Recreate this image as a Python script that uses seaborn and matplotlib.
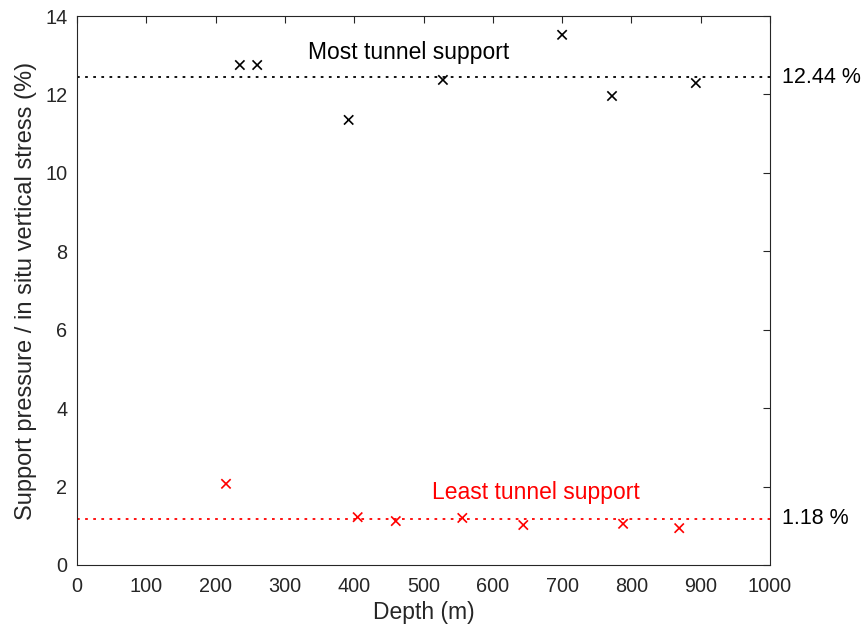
import numpy as np
import pandas as pd
import seaborn as sns
import matplotlib
matplotlib.use("Agg")
import matplotlib.pyplot as plt

# Most-supported tunnels
most_depth = [235, 260, 392, 528, 700, 772, 893]
most_ratio = [12.75, 12.75, 11.35, 12.37, 13.52, 11.96, 12.29]
most_mean = 12.44

# Least-supported tunnels
least_depth = [215, 405, 460, 556, 644, 788, 869]
least_ratio = [2.07, 1.22, 1.12, 1.20, 1.02, 1.05, 0.94]
least_mean = 1.18

xticks = list(range(0, 1001, 100))
yticks = list(range(0, 15, 2))

sns.set_theme(style="white")
plt.rcParams["font.family"] = ["Liberation Sans", "DejaVu Sans"]

fig = plt.figure(figsize=(8.67, 6.35), dpi=100)
ax = fig.add_axes([77 / 867, 70 / 635, 693 / 867, 549 / 635])

df = pd.DataFrame({
    "depth": most_depth + least_depth,
    "ratio": most_ratio + least_ratio,
    "group": ["most"] * len(most_depth) + ["least"] * len(least_depth),
})
sns.scatterplot(data=df, x="depth", y="ratio", hue="group",
                palette={"most": "black", "least": "red"},
                marker="x", s=45, linewidth=1.2, legend=False, ax=ax)

ax.axhline(most_mean, color="black", linestyle=(0, (1.5, 3)), linewidth=1.3)
ax.axhline(least_mean, color="red", linestyle=(0, (1.5, 3)), linewidth=1.3)

ax.set_xlim(0, 1000)
ax.set_ylim(0, 14)
ax.set_xticks(xticks)
ax.set_yticks(yticks)
ax.tick_params(direction="in", length=5, width=0.8, top=True, right=True,
               labelsize=14.3, colors="#262626")
ax.tick_params(axis="x", pad=9)
ax.tick_params(axis="y", pad=7)
for s in ax.spines.values():
    s.set_linewidth(0.8)
    s.set_color("#262626")

ax.set_xlabel("Depth (m)", fontsize=16.5, color="#262626", labelpad=3)
ax.set_ylabel("Support pressure / in situ vertical stress (%)", fontsize=17,
              color="#262626", labelpad=6)

ax.text(479, 13.08, "Most tunnel support", fontsize=16.5, color="black",
        ha="center", va="center")
ax.text(662, 1.86, "Least tunnel support", fontsize=16.5, color="red",
        ha="center", va="center")
ax.text(1017, most_mean, f"{most_mean:.2f} %", fontsize=15.5, color="black",
        ha="left", va="center", clip_on=False)
ax.text(1017, least_mean, f"{least_mean:.2f} %", fontsize=15.5, color="black",
        ha="left", va="center", clip_on=False)

fig.savefig("out.png", dpi=100)
